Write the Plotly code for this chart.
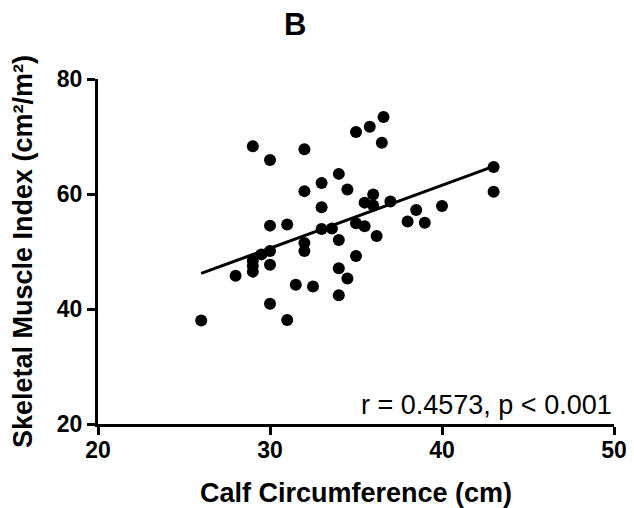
import plotly.graph_objects as go

# Data
calf_cm = [29, 30, 32, 34, 33, 34.5, 32, 33, 30, 31,
           36.6, 35.8, 35, 36.5, 36, 35.5, 37, 36, 38.5, 40,
           38, 39, 43, 43, 35, 35.5, 33, 33.6, 34, 32,
           32, 30, 29.5, 29, 29, 29, 30, 28, 34, 34.5,
           31.5, 32.5, 34, 30, 26, 31, 36.2, 35]
smi = [68.3, 65.9, 67.8, 63.5, 61.9, 60.8, 60.5, 57.7, 54.5, 54.7,
       73.4, 71.7, 70.8, 68.9, 59.9, 58.5, 58.7, 58.0, 57.2, 57.9,
       55.2, 55.0, 64.7, 60.4, 54.9, 54.4, 53.9, 54.0, 52.0, 51.5,
       50.1, 50.1, 49.5, 48.4, 47.5, 46.5, 47.7, 45.8, 47.1, 45.3,
       44.2, 43.9, 42.4, 40.9, 38.0, 38.1, 52.7, 49.2]

fit_x = [26, 43]
fit_y = [46.2, 64.8]

x_ticks = [20, 30, 40, 50]
y_ticks = [20, 40, 60, 80]

FONT = "Liberation Sans, Arial, sans-serif"

fig = go.Figure()
fig.add_trace(go.Scatter(x=fit_x, y=fit_y, mode="lines",
                         line=dict(color="black", width=3), showlegend=False))
fig.add_trace(go.Scatter(x=calf_cm, y=smi, mode="markers",
                         marker=dict(color="black", size=12), showlegend=False))

axis_common = dict(showline=True, linewidth=3, linecolor="black",
                   ticks="outside", ticklen=8, tickwidth=3, tickcolor="black",
                   showgrid=False, zeroline=False, automargin=False,
                   tickfont=dict(family=FONT, size=23, color="black", weight="bold"))

fig.update_xaxes(range=[20, 50], tickvals=x_ticks, ticklabelstandoff=-5, **axis_common,
                 title=dict(text="Calf Circumference (cm)", standoff=23,
                            font=dict(family=FONT, size=27, color="black", weight="bold")))
fig.update_yaxes(range=[20, 80], tickvals=y_ticks, **axis_common,
                 title=dict(text="Skeletal Muscle Index (cm²/m²)", standoff=18,
                            font=dict(family=FONT, size=27, color="black", weight="bold")))

fig.add_annotation(x=1, y=0, xref="paper", yref="paper", xanchor="right", yanchor="bottom",
                   text="r = 0.4573, p < 0.001", showarrow=False, yshift=2,
                   font=dict(family=FONT, size=27, color="black"))
fig.add_annotation(x=0.382, y=1, xref="paper", yref="paper", xanchor="center", yanchor="middle",
                   yshift=55, text="B", showarrow=False,
                   font=dict(family=FONT, size=31, color="black", weight="bold"))

# The page body adds an 8px offset, so the figure is sized/margined to compensate
fig.update_layout(width=626, height=500, plot_bgcolor="white", paper_bgcolor="white",
                  margin=dict(l=90, r=20, t=71, b=84))

fig.write_html("out.html")
